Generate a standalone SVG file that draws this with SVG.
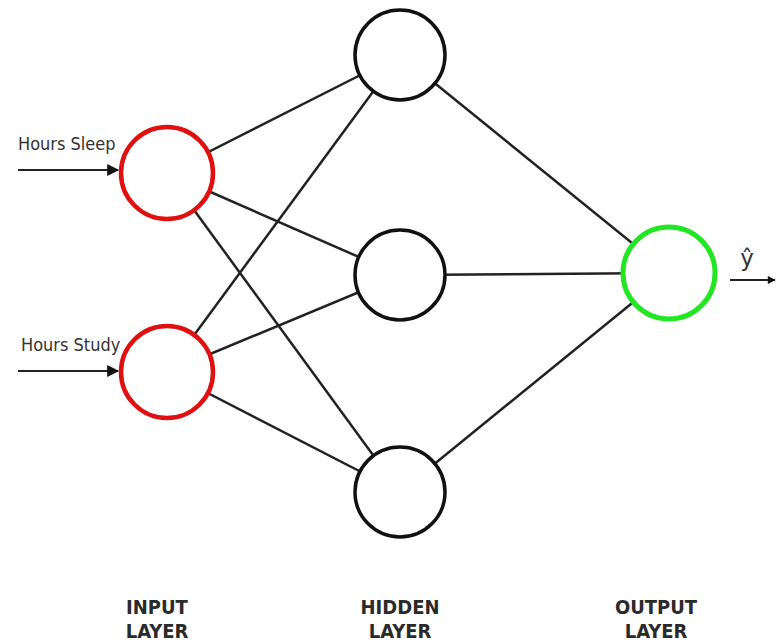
<svg xmlns="http://www.w3.org/2000/svg" width="780" height="643" viewBox="0 0 780 643">
  <style>
    .edge { stroke: #222; stroke-width: 2.5; fill: none; }
    .in { fill: #fff; stroke: #e01010; stroke-width: 4.5; }
    .hid { fill: #fff; stroke: #111; stroke-width: 3.5; }
    .out { fill: #fff; stroke: #22e622; stroke-width: 5; }
    .lbl { font-family: "Liberation Sans Narrow", "DejaVu Sans Condensed", "Liberation Sans", sans-serif; font-size: 18px; fill: #333; }
    .yhat { font-family: "DejaVu Sans", "Liberation Sans", sans-serif; font-size: 23px; fill: #333; text-anchor: middle; }
    .layer { font-family: "DejaVu Sans Condensed", "Liberation Sans Narrow", sans-serif; font-size: 20px; font-weight: bold; fill: #2a2a2a; text-anchor: middle; }
    .arrow { stroke: #222; stroke-width: 1.8; fill: none; }
  </style>
  <defs>
    <marker id="head" viewBox="0 0 10 10" refX="9" refY="5" markerWidth="10" markerHeight="8" markerUnits="userSpaceOnUse" orient="auto">
      <path d="M0,0 L10,5 L0,10 z" fill="#111"/>
    </marker>
    <marker id="headL" viewBox="0 0 10 10" refX="9" refY="5" markerWidth="16" markerHeight="12" markerUnits="userSpaceOnUse" orient="auto">
      <path d="M0,0 L10,5 L0,10 z" fill="#111"/>
    </marker>
  </defs>

  <rect width="780" height="643" fill="#fff"/>

  <!-- connectors -->
  <g id="connectors">
    <line class="edge" x1="167" y1="173" x2="400" y2="55"/>
    <line class="edge" x1="167" y1="173" x2="400" y2="275"/>
    <line class="edge" x1="167" y1="173" x2="400" y2="492"/>
    <line class="edge" x1="167" y1="372" x2="400" y2="55"/>
    <line class="edge" x1="167" y1="372" x2="400" y2="275"/>
    <line class="edge" x1="167" y1="372" x2="400" y2="492"/>
    <line class="edge" x1="400" y1="55" x2="669" y2="273"/>
    <line class="edge" x1="400" y1="275" x2="669" y2="273"/>
    <line class="edge" x1="400" y1="492" x2="669" y2="273"/>
    <line class="arrow" x1="18" y1="170" x2="118" y2="170" marker-end="url(#headL)"/>
    <line class="arrow" x1="18" y1="371" x2="118" y2="371" marker-end="url(#headL)"/>
    <line class="arrow" x1="730" y1="280" x2="775" y2="280" marker-end="url(#head)"/>
  </g>

  <!-- input layer -->
  <g id="in-sleep">
    <circle class="in" cx="167" cy="173" r="46"/>
    <text class="lbl" x="18" y="150">Hours Sleep</text>
  </g>
  <g id="in-study">
    <circle class="in" cx="167" cy="372" r="46"/>
    <text class="lbl" x="21" y="351">Hours Study</text>
  </g>

  <!-- hidden layer -->
  <g id="hidden-1"><circle class="hid" cx="400" cy="55" r="45"/></g>
  <g id="hidden-2"><circle class="hid" cx="400" cy="275" r="45"/></g>
  <g id="hidden-3"><circle class="hid" cx="400" cy="492" r="45"/></g>

  <!-- output layer -->
  <g id="output">
    <circle class="out" cx="669" cy="273" r="46"/>
    <text class="yhat" x="747" y="266">ŷ</text>
  </g>

  <!-- layer captions -->
  <g id="captions">
    <text class="layer" x="157" y="614">INPUT</text>
    <text class="layer" x="157" y="638">LAYER</text>
    <text class="layer" x="400" y="614">HIDDEN</text>
    <text class="layer" x="400" y="638">LAYER</text>
    <text class="layer" x="656" y="614">OUTPUT</text>
    <text class="layer" x="656" y="638">LAYER</text>
  </g>
</svg>
